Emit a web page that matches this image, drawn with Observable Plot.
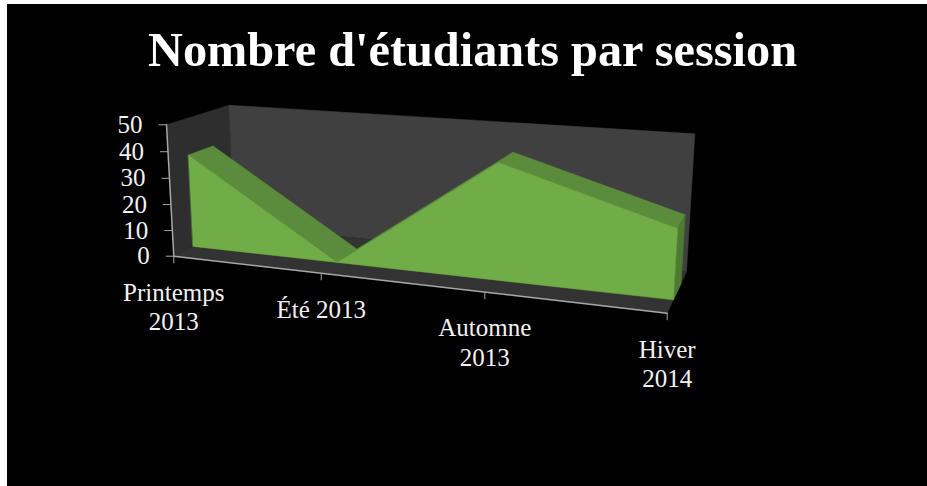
<!DOCTYPE html>
<html lang="fr">
<head>
<meta charset="utf-8">
<script src="https://cdn.jsdelivr.net/npm/d3@7"></script>
<script src="https://cdn.jsdelivr.net/npm/@observablehq/plot@0.6"></script>
<style>
html,body{margin:0;padding:0;background:#fff;overflow:hidden}
#page{position:absolute;left:7px;top:4px;width:920px;height:482px;background:#000}
#title{height:86px;color:#fff;font:bold 48.3px "Liberation Serif",serif;text-align:center;position:relative}
#title span{position:absolute;left:141px;top:18px;white-space:nowrap}
#chart svg{display:block}
</style>
</head>
<body>
<div id="page">
  <div id="title"><span>Nombre d'étudiants par session</span></div>
  <div id="chart"></div>
</div>
<script>
const categories = ["Printemps\n2013", "Été 2013", "Automne\n2013", "Hiver\n2014"];
const students = [36, 0, 42, 24.5];
const yTicks = [0, 10, 20, 30, 40, 50];
const yMax = 50;
const depthFront = 0.3, depthBack = 0.7;

// Perspective camera of the 3D box: screen images of the box corners
const O = [173.3, 255.7], U = [666.7, 312.7], V = [166, 124.3], W = [233.5, 225];
const au = 0.8525, av = 0.971, aw = 1.0968;
function project(u, v, w) {
  const d = 1 + u * (au - 1) + v * (av - 1) + w * (aw - 1);
  const c = i => (O[i] + u * (au * U[i] - O[i]) + v * (av * V[i] - O[i]) + w * (aw * W[i] - O[i])) / d;
  return {px: c(0), py: c(1)};
}
const n = categories.length;
const uOf = i => i / (n - 1);
const vOf = s => s / yMax;

// Polygons (walls and faces) as closed sets of projected vertices
const polys = [];
function poly(id, fill, corners) {
  corners.forEach(([u, v, w]) => polys.push({id, fill, ...project(u, v, w)}));
}
poly("wallLeft", "#2e2e2e", [[0,0,0],[0,1,0],[0,1,1],[0,0,1]]);
poly("wallBack", "#404040", [[0,0,1],[0,1,1],[1,1,1],[1,0,1]]);
poly("floor", "#333333", [[0,0,0],[0,0,1],[1,0,1],[1,0,0]]);
students.slice(0, -1).forEach((s, i) => {
  const u0 = uOf(i), u1 = uOf(i + 1), v0 = vOf(s), v1 = vOf(students[i + 1]);
  poly("top" + i, "#5b8c3c", [[u0,v0,depthFront],[u0,v0,depthBack],[u1,v1,depthBack],[u1,v1,depthFront]]);
});
poly("side", "#4e7a32", [[1,0,depthFront],[1,vOf(students[n-1]),depthFront],[1,vOf(students[n-1]),depthBack],[1,0,depthBack]]);
poly("front", "#70ad47", [
  ...students.map((s, i) => [uOf(i), vOf(s), depthFront]),
  [1,0,depthFront],[0,0,depthFront]
]);

const xAxisLine = [0, 1].map(u => project(u, 0, 0));
const yAxisLine = [0, 1].map(v => project(0, v, 0));
const yTickData = yTicks.map(t => ({t, ...project(0, vOf(t), 0)}));
const xTickData = categories.map((c, i) => ({c, ...project(uOf(i), 0, 0)}));

const chart = Plot.plot({
  width: 920, height: 396,
  margin: 0,
  style: {background: "#000", color: "#fff"},
  x: {domain: [7, 927], range: [0, 920], axis: null},
  y: {domain: [90, 486], range: [0, 396], axis: null},
  marks: [
    Plot.line(polys, {x: "px", y: "py", z: "id", fill: "fill", stroke: "fill", strokeWidth: 0.5, curve: "linear-closed"}),
    Plot.line(xAxisLine, {x: "px", y: "py", stroke: "#a6a6a6", strokeWidth: 1.5}),
    Plot.line(yAxisLine, {x: "px", y: "py", stroke: "#a6a6a6", strokeWidth: 1.5}),
    Plot.link(yTickData, {x1: d => d.px - 8, x2: "px", y1: "py", y2: "py", stroke: "#a6a6a6"}),
    Plot.link(xTickData, {x1: "px", x2: "px", y1: "py", y2: d => d.py + 7, stroke: "#a6a6a6"}),
    Plot.text(yTickData, {x: d => d.px - 9, y: "py", text: d => String(d.t), textAnchor: "end", dx: -15, fill: "#f2f2f2", fontSize: 25, fontFamily: "Liberation Serif"}),
    Plot.text(xTickData, {x: "px", y: d => d.py + 23, text: "c", lineAnchor: "top", lineHeight: 1.2, fill: "#f2f2f2", fontSize: 25, fontFamily: "Liberation Serif"})
  ]
});
document.getElementById("chart").append(chart);
</script>
</body>
</html>
